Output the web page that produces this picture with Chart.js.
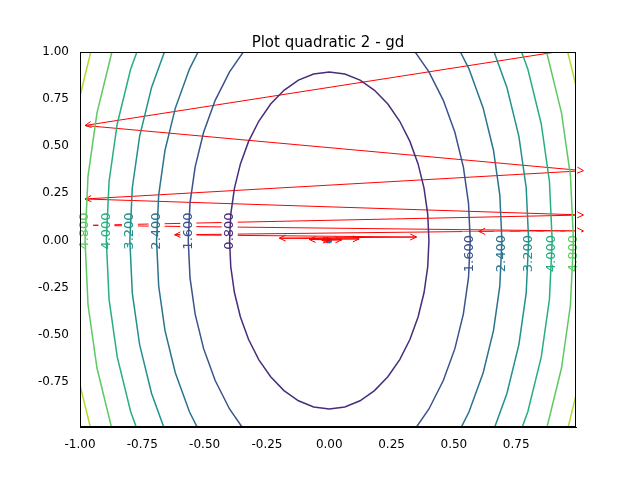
<!DOCTYPE html>
<html><head>
<script src="https://cdn.jsdelivr.net/npm/chart.js@4"></script>
<style>body{margin:0;background:#fff}#wrap{width:640px;height:480px}</style>
</head><body><div id="wrap"><canvas id="c"></canvas></div>
<script>
// contour levels of f(x,y) = 5x^2 + y^2
var levels = [0.8, 1.6, 2.4, 3.2, 4.0, 4.8, 5.6];
var levelColors = ['#472d7b','#3b528b','#2c728e','#21918c','#28ae80','#5ec962','#addc30'];
var leftLabels = [0.8, 1.6, 2.4, 3.2, 4.0, 4.8];
var rightLabels = [1.6, 2.4, 3.2, 4.0, 4.8];
// gradient descent path
var pathX = [1.2, -0.98, 1.02, -0.98, 1.02, -0.98, 1.02, 0.6, -0.62, 0.35, -0.2, 0.12, -0.08, 0.05, -0.03, 0.0];
var pathY = [1.06, 0.61, 0.37, 0.22, 0.135, 0.08, 0.05, 0.048, 0.03, 0.018, 0.012, 0.008, 0.005, 0.003, 0.002, 0.0];
var xTicks = [-1, -0.75, -0.5, -0.25, 0, 0.25, 0.5, 0.75];
var yTicks = [-0.75, -0.5, -0.25, 0, 0.25, 0.5, 0.75, 1];

function contour(lv) {
  var pts = [];
  var a = Math.sqrt(lv / 5), b = Math.sqrt(lv);
  for (var i = 0; i <= 40; i++) {
    var t = i / 40 * 2 * Math.PI;
    pts.push({x: a * Math.cos(t), y: b * Math.sin(t)});
  }
  return pts;
}

var datasets = levels.map(function (lv, i) {
  return {data: contour(lv), borderColor: levelColors[i], borderWidth: 1.5,
    showLine: true, pointRadius: 0, tension: 0, fill: false};
});
var nContours = datasets.length;
datasets.push({data: pathX.map(function (x, i) { return {x: x, y: pathY[i]}; }),
  borderColor: '#ff0000', borderWidth: 1, showLine: true, pointRadius: 0, tension: 0});
datasets.push({data: [{x: 0, y: 0}], borderColor: '#1f77b4', backgroundColor: '#1f77b4', pointRadius: 2.5});

var labelsPlugin = {
  id: 'labels',
  afterDatasetDraw: function (chart, args) {
    var ctx = chart.ctx, xs = chart.scales.x, ys = chart.scales.y;
    if (args.index === nContours - 1) {
      ctx.save();
      ctx.font = '13px "DejaVu Sans"';
      ctx.textAlign = 'center'; ctx.textBaseline = 'middle';
      [[-1, 0.05, leftLabels], [1, -0.07, rightLabels]].forEach(function (s) {
        s[2].forEach(function (lv) {
          var ci = levels.indexOf(lv);
          var yv = s[1];
          var xv = s[0] * Math.sqrt((lv - yv * yv) / 5);
          var px = xs.getPixelForValue(xv), py = ys.getPixelForValue(yv);
          ctx.fillStyle = '#ffffff';
          ctx.fillRect(px - 8, py - 22, 16, 44);
          ctx.save();
          ctx.translate(px, py); ctx.rotate(-Math.PI / 2);
          ctx.fillStyle = levelColors[ci];
          ctx.fillText(lv.toFixed(3), 0, 0);
          ctx.restore();
        });
      });
      ctx.restore();
    }
    if (args.index === nContours) {
      ctx.save();
      ctx.strokeStyle = '#ff0000'; ctx.lineWidth = 1;
      for (var i = 1; i < pathX.length; i++) {
        var x0 = xs.getPixelForValue(pathX[i - 1]), y0 = ys.getPixelForValue(pathY[i - 1]);
        var x1 = xs.getPixelForValue(pathX[i]), y1 = ys.getPixelForValue(pathY[i]);
        var ang = Math.atan2(y1 - y0, x1 - x0), h = 7;
        ctx.beginPath();
        ctx.moveTo(x1 - h * Math.cos(ang - 0.45), y1 - h * Math.sin(ang - 0.45));
        ctx.lineTo(x1, y1);
        ctx.lineTo(x1 - h * Math.cos(ang + 0.45), y1 - h * Math.sin(ang + 0.45));
        ctx.stroke();
      }
      ctx.restore();
    }
  },
  afterDraw: function (chart) {
    var ctx = chart.ctx, a = chart.chartArea;
    ctx.save();
    ctx.strokeStyle = '#000'; ctx.lineWidth = 1;
    ctx.strokeRect(a.left + 0.5, a.top + 0.5, a.right - a.left - 1, a.bottom - a.top - 1);
    ctx.fillStyle = '#000';
    ctx.font = '15px "DejaVu Sans"';
    ctx.textAlign = 'center'; ctx.textBaseline = 'middle';
    ctx.fillText('Plot quadratic 2 - gd', (a.left + a.right) / 2, 43);
    ctx.restore();
  }
};

new Chart('c', {
  type: 'scatter',
  data: {datasets: datasets},
  plugins: [labelsPlugin],
  options: {
    responsive: true, maintainAspectRatio: false, animation: false,
    layout: {padding: {top: 52, right: 64, bottom: 0, left: 0}},
    plugins: {legend: {display: false}, tooltip: {enabled: false}, title: {display: false}},
    scales: {
      x: {type: 'linear', min: -1, max: 0.99,
        afterBuildTicks: function (s) { s.ticks = xTicks.map(function (v) { return {value: v}; }); },
        grid: {display: false},
        border: {color: '#000', width: 1},
        ticks: {color: '#000', font: {family: 'DejaVu Sans', size: 12}, maxRotation: 0,
          callback: function (v) { return Number(v).toFixed(2); }},
        afterFit: function (s) { s.height = 53; }
      },
      y: {type: 'linear', min: -0.99, max: 1,
        afterBuildTicks: function (s) { s.ticks = yTicks.map(function (v) { return {value: v}; }); },
        grid: {display: false},
        border: {color: '#000', width: 1},
        ticks: {color: '#000', font: {family: 'DejaVu Sans', size: 12},
          callback: function (v) { return Number(v).toFixed(2); }},
        afterFit: function (s) { s.width = 80; }
      }
    }
  }
});
</script></body></html>
